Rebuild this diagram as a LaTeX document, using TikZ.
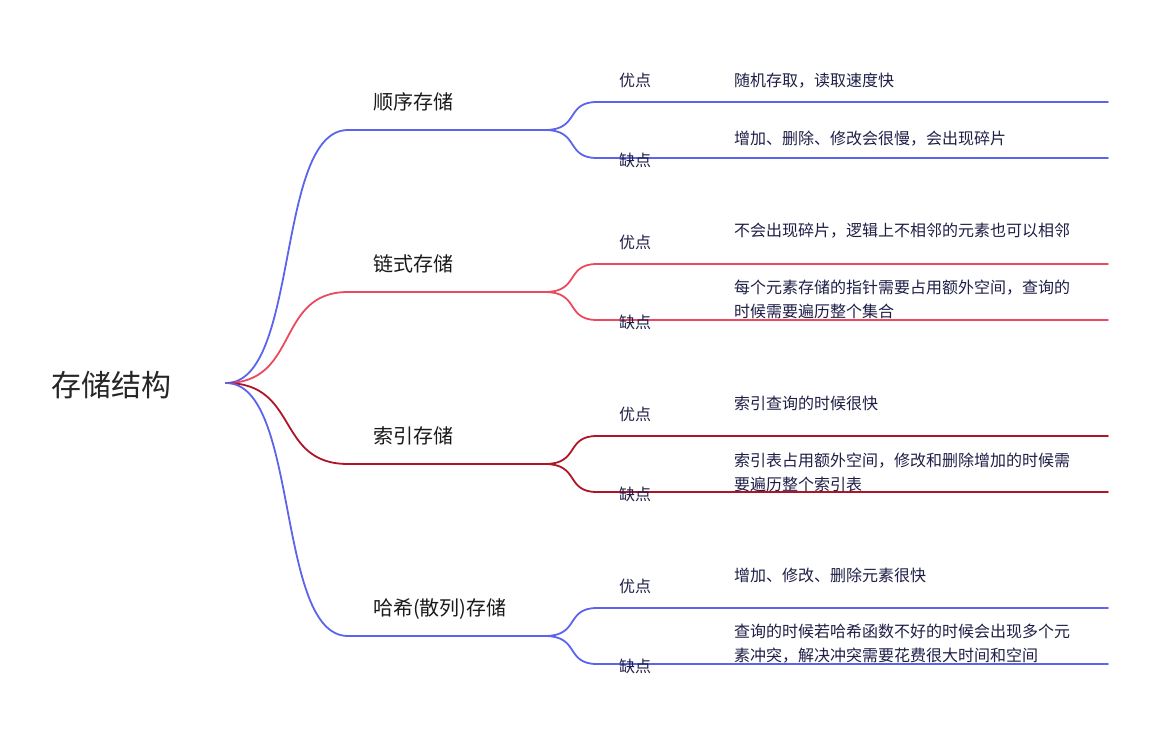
\documentclass[tikz,border=0pt]{standalone}
\usepackage{fontspec}
\newfontfamily\cjk{Noto Sans CJK SC}
\newfontfamily\cjkbold[AutoFakeBold=2.5]{Noto Sans CJK SC}
\usetikzlibrary{positioning}
\definecolor{mblue}{HTML}{5A64EC}
\definecolor{mred}{HTML}{EB4A5E}
\definecolor{mdark}{HTML}{AE1527}
\definecolor{mtext}{HTML}{1E1E46}
\tikzset{
	mind map/.style={x=1pt, y=-1pt, line width=2pt, line cap=round},
	root/.style={font=\cjkbold\fontsize{30}{34}\selectfont, text=black!85, inner sep=0pt},
	branch/.style={font=\cjk\fontsize{20}{24}\selectfont, text=black!90, anchor=base west, inner sep=0pt},
	tag/.style={font=\cjk\fontsize{16}{20}\selectfont, text=mtext, anchor=base west, inner sep=0pt},
	detail/.style={font=\cjk\fontsize{16}{24}\selectfont, text=mtext, anchor=west, inner sep=0pt, align=left},
	edge/.style={draw, line width=1.8pt}
}
\begin{document}
\begin{tikzpicture}[mind map]
	\useasboundingbox (0,0) rectangle (1162,731);
	\node[root, anchor=west] (R) at (50,385) {存储结构};
	\coordinate (r) at (226,383);
	% branches: y of underline, name, colour
	\foreach \n/\y/\t/\c in {A/130/顺序存储/mblue, B/292/链式存储/mred, C/464/索引存储/mdark, D/636/哈希(散列)存储/mblue}{
		\coordinate (\n s) at (348,\y);
		\coordinate (\n e) at (545,\y);
		\node[branch] (\n) at (372,\y-21) {\t};
		\draw[edge, \c] (r) .. controls (300,383) and (275,\y) .. (\n s) -- (\n e);
		\coordinate (\n 1) at (597,\y-28);
		\coordinate (\n 2) at (597,\y+28);
		\draw[edge, \c] (\n e) .. controls (580,\y) and (565,\y-28) .. (\n 1) -- (1108,\y-28);
		\draw[edge, \c] (\n e) .. controls (580,\y) and (565,\y+28) .. (\n 2) -- (1108,\y+28);
		\node[tag] (\n p) at (618,\y-44) {优点};
		\node[tag] (\n m) at (618,\y+36) {缺点};
	}
	\node[tag] (Ap') at (733,86) {随机存取，读取速度快};
	\node[tag] (Am') at (733,144) {增加、删除、修改会很慢，会出现碎片};
	\node[tag] (Bp') at (733,236) {不会出现碎片，逻辑上不相邻的元素也可以相邻};
	\node[detail] (Bm') at (733,299) {每个元素存储的指针需要占用额外空间，查询的\\时候需要遍历整个集合};
	\node[tag] (Cp') at (733,409) {索引查询的时候很快};
	\node[detail] (Cm') at (733,472) {索引表占用额外空间，修改和删除增加的时候需\\要遍历整个索引表};
	\node[tag] (Dp') at (733,581) {增加、修改、删除元素很快};
	\node[detail] (Dm') at (733,644) {查询的时候若哈希函数不好的时候会出现多个元\\素冲突，解决冲突需要花费很大时间和空间};
\end{tikzpicture}
\end{document}
